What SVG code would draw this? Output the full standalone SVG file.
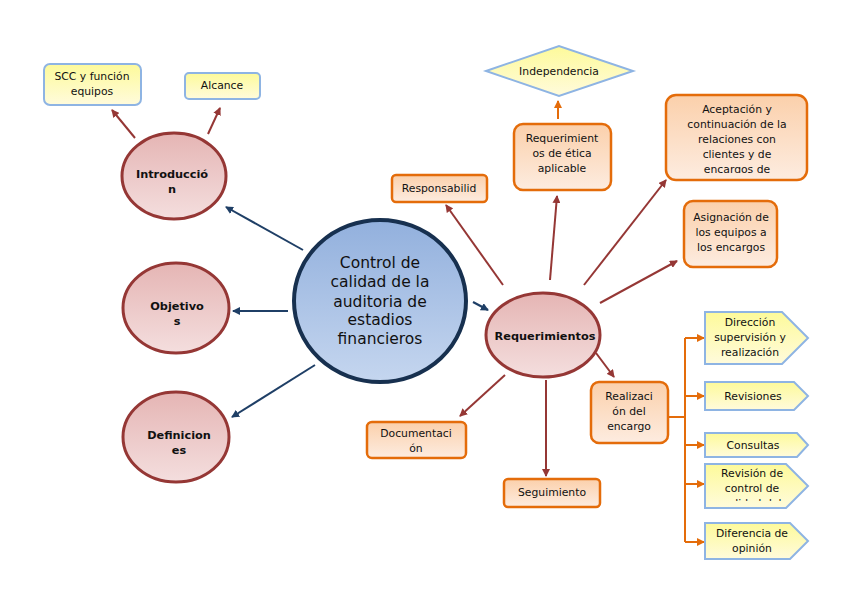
<svg xmlns="http://www.w3.org/2000/svg" width="848" height="599" viewBox="0 0 848 599">
<defs>
<linearGradient id="gRed" x1="0" y1="0" x2="0" y2="1"><stop offset="0" stop-color="#e5b5b4"/><stop offset="1" stop-color="#f4dede"/></linearGradient>
<linearGradient id="gBlue" x1="0" y1="0" x2="0" y2="1"><stop offset="0" stop-color="#92b0dd"/><stop offset="1" stop-color="#c5d6ef"/></linearGradient>
<linearGradient id="gOr" x1="0" y1="0" x2="0" y2="1"><stop offset="0" stop-color="#fbd0ab"/><stop offset="1" stop-color="#fdece0"/></linearGradient>
<linearGradient id="gYe" x1="0" y1="0" x2="0" y2="1"><stop offset="0" stop-color="#fdfa9a"/><stop offset="1" stop-color="#fffbdc"/></linearGradient>
<marker id="mB" markerWidth="8" markerHeight="8" refX="7" refY="4" orient="auto" markerUnits="userSpaceOnUse"><path d="M0,0 L8,4 L0,8 Z" fill="#1f3f66"/></marker>
<marker id="mR" markerWidth="8" markerHeight="8" refX="7" refY="4" orient="auto" markerUnits="userSpaceOnUse"><path d="M0,0 L8,4 L0,8 Z" fill="#953735"/></marker>
<marker id="mO" markerWidth="8" markerHeight="8" refX="7" refY="4" orient="auto" markerUnits="userSpaceOnUse"><path d="M0,0 L8,4 L0,8 Z" fill="#e46c0a"/></marker>
<clipPath id="cAcep"><rect x="666" y="95" width="142" height="78"/></clipPath>
<clipPath id="cRev"><rect x="705" y="464" width="104" height="37"/></clipPath>
</defs>
<style>
text{font-family:"DejaVu Sans","Verdana",sans-serif;fill:#111;text-anchor:middle}
.t{font-size:10.8px}
.b{font-size:11.3px;font-weight:bold}
.c{font-size:15.5px}
.ell{fill:url(#gRed);stroke:#953735;stroke-width:3}
.or{fill:url(#gOr);stroke:#e46c0a;stroke-width:2.5}
.ye{fill:url(#gYe);stroke:#8eb4e3;stroke-width:2}
.lb{stroke:#1f3f66;stroke-width:2;fill:none;marker-end:url(#mB)}
.lr{stroke:#953735;stroke-width:2;fill:none;marker-end:url(#mR)}
.lo{stroke:#e46c0a;stroke-width:2;fill:none}
.loa{stroke:#e46c0a;stroke-width:2;fill:none;marker-end:url(#mO)}
</style>
<rect width="848" height="599" fill="#fff"/>

<g id="connectors">
<line class="lr" x1="135" y1="138" x2="112" y2="110"/>
<line class="lr" x1="208" y1="134" x2="220" y2="108"/>
<line class="lb" x1="303" y1="250" x2="226" y2="207"/>
<line class="lb" x1="288" y1="311" x2="233" y2="311"/>
<line class="lb" x1="315" y1="365" x2="232" y2="417"/>
<line class="lb" x1="473" y1="302" x2="488" y2="310"/>
<line class="lr" x1="503" y1="285" x2="446" y2="205"/>
<line class="lr" x1="550" y1="280" x2="557" y2="196"/>
<line class="lr" x1="584" y1="285" x2="666" y2="180"/>
<line class="lr" x1="600" y1="303" x2="677" y2="261"/>
<line class="lr" x1="596" y1="353" x2="614" y2="377"/>
<line class="lr" x1="546" y1="380" x2="546" y2="476"/>
<line class="lr" x1="505" y1="375" x2="460" y2="416"/>
<line class="loa" x1="558" y1="119" x2="558" y2="101"/>
<path class="lo" d="M668,417 H685 M685,338 V542"/>
<line class="loa" x1="685" y1="338" x2="704" y2="338"/>
<line class="loa" x1="685" y1="396" x2="704" y2="396"/>
<line class="loa" x1="685" y1="445" x2="704" y2="445"/>
<line class="loa" x1="685" y1="484" x2="704" y2="484"/>
<line class="loa" x1="685" y1="542" x2="704" y2="542"/>
</g>

<g id="central">
<ellipse cx="380" cy="301" rx="86" ry="81" fill="url(#gBlue)" stroke="#17304f" stroke-width="4"/>
<text class="c" x="380" y="268">Control de</text>
<text class="c" x="380" y="287">calidad de la</text>
<text class="c" x="380" y="307">auditoria de</text>
<text class="c" x="380" y="325">estadios</text>
<text class="c" x="380" y="344">financieros</text>
</g>

<g id="introduccion">
<ellipse class="ell" cx="174" cy="176" rx="52" ry="43"/>
<text class="b" x="172" y="178">Introducció</text>
<text class="b" x="172" y="193">n</text>
</g>
<g id="scc">
<rect class="ye" x="44" y="64" width="97" height="41" rx="6"/>
<text class="t" x="92" y="80">SCC y función</text>
<text class="t" x="92" y="95">equipos</text>
</g>
<g id="alcance">
<rect class="ye" x="185" y="73" width="75" height="26" rx="4"/>
<text class="t" x="222" y="89">Alcance</text>
</g>
<g id="objetivos">
<ellipse class="ell" cx="176" cy="308" rx="53" ry="45"/>
<text class="b" x="177" y="310">Objetivo</text>
<text class="b" x="177" y="325">s</text>
</g>
<g id="definiciones">
<ellipse class="ell" cx="176" cy="437" rx="53" ry="45"/>
<text class="b" x="179" y="439">Definicion</text>
<text class="b" x="179" y="454">es</text>
</g>

<g id="requerimientos">
<ellipse class="ell" cx="543" cy="335" rx="57" ry="42"/>
<text class="b" x="545" y="340">Requerimientos</text>
</g>
<g id="responsabilid">
<rect class="or" x="392" y="175" width="95" height="27" rx="4"/>
<text class="t" x="439" y="192">Responsabilid</text>
</g>
<g id="etica">
<rect class="or" x="514" y="124" width="97" height="66" rx="9"/>
<text class="t" x="562" y="142">Requerimient</text>
<text class="t" x="562" y="157">os de ética</text>
<text class="t" x="562" y="172">aplicable</text>
</g>
<g id="independencia">
<polygon class="ye" points="486,71 559,46 633,71 559,96"/>
<text class="t" x="559" y="75">Independencia</text>
</g>
<g id="aceptacion">
<rect class="or" x="666" y="95" width="141" height="85" rx="10"/>
<g clip-path="url(#cAcep)">
<text class="t" x="737" y="113">Aceptación y</text>
<text class="t" x="737" y="128">continuación de la</text>
<text class="t" x="737" y="143">relaciones con</text>
<text class="t" x="737" y="158">clientes y de</text>
<text class="t" x="737" y="173">encargos de</text>
</g>
</g>
<g id="asignacion">
<rect class="or" x="684" y="201" width="93" height="66" rx="9"/>
<text class="t" x="731" y="221">Asignación de</text>
<text class="t" x="731" y="236">los equipos a</text>
<text class="t" x="731" y="251">los encargos</text>
</g>
<g id="realizacion">
<rect class="or" x="591" y="382" width="77" height="61" rx="8"/>
<text class="t" x="629" y="400">Realizaci</text>
<text class="t" x="629" y="415">ón del</text>
<text class="t" x="629" y="430">encargo</text>
</g>
<g id="documentacion">
<rect class="or" x="367" y="422" width="99" height="36" rx="5"/>
<text class="t" x="416" y="437">Documentaci</text>
<text class="t" x="416" y="452">ón</text>
</g>
<g id="seguimiento">
<rect class="or" x="504" y="479" width="96" height="28" rx="4"/>
<text class="t" x="552" y="496">Seguimiento</text>
</g>

<g id="direccion">
<polygon class="ye" points="705,312 782,312 808,338 782,364 705,364"/>
<text class="t" x="750" y="326">Dirección</text>
<text class="t" x="750" y="341">supervisión y</text>
<text class="t" x="750" y="356">realización</text>
</g>
<g id="revisiones">
<polygon class="ye" points="705,382 794,382 808,396 794,410 705,410"/>
<text class="t" x="753" y="400">Revisiones</text>
</g>
<g id="consultas">
<polygon class="ye" points="705,433 797,433 808,445 797,457 705,457"/>
<text class="t" x="753" y="449">Consultas</text>
</g>
<g id="revision-control">
<polygon class="ye" points="705,464 786,464 808,486 786,508 705,508"/>
<g clip-path="url(#cRev)">
<text class="t" x="752" y="477">Revisión de</text>
<text class="t" x="752" y="492">control de</text>
<text class="t" x="752" y="507">calidad del</text>
</g>
</g>
<g id="diferencia">
<polygon class="ye" points="705,523 790,523 808,541 790,559 705,559"/>
<text class="t" x="752" y="537">Diferencia de</text>
<text class="t" x="752" y="552">opinión</text>
</g>
</svg>
